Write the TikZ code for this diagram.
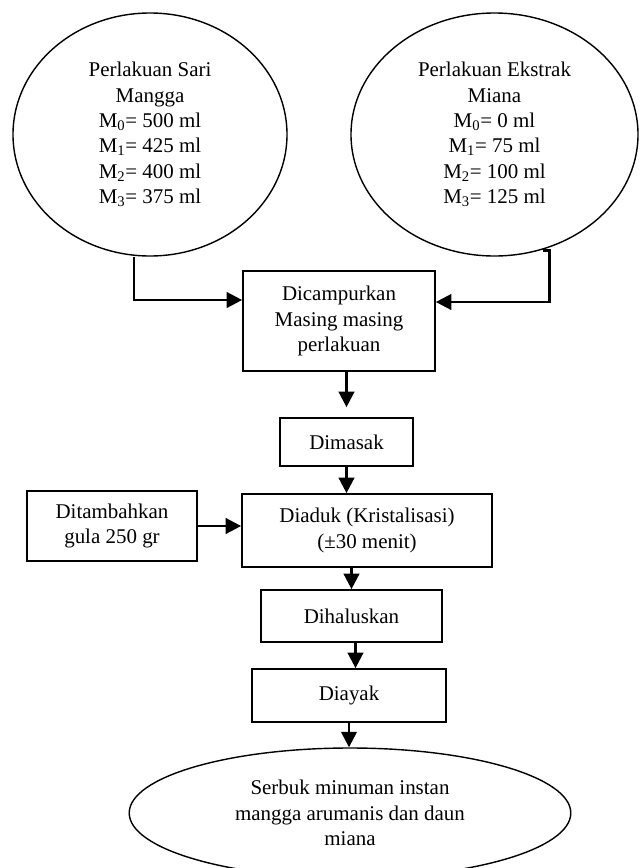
\documentclass[tikz,border=0pt]{standalone}
\usepackage{fontspec}
\setmainfont{Liberation Serif}
\usepackage{tikz}
\usetikzlibrary{arrows.meta, positioning, shapes.geometric}

\begin{document}
\begin{tikzpicture}[
    block/.style={
        draw,
        rectangle,
        line width=1.2pt,
        align=center,
        inner sep=0pt,
        font=\fontsize{14.9}{18.1}\selectfont
    },
    oval/.style={
        draw,
        ellipse,
        line width=1pt,
        align=center,
        inner sep=0pt,
        font=\fontsize{14.9}{18.1}\selectfont
    },
    arrow/.style={-{Triangle[length=11pt, width=11pt]}, line width=1.8pt}
]

\useasboundingbox (0,0) rectangle (16,-21.7);

% ===== Inputs =====
\node[oval, minimum width=6.85cm, minimum height=6.075cm] (sari) at (3.75,-3.3625)
    {Perlakuan Sari\\Mangga\\M\textsubscript{0}= 500 ml\\M\textsubscript{1}= 425 ml\\M\textsubscript{2}= 400 ml\\M\textsubscript{3}= 375 ml};

\node[oval, minimum width=7.175cm, minimum height=6.075cm] (miana) at (12.3625,-3.3625)
    {Perlakuan Ekstrak\\Miana\\M\textsubscript{0}= 0 ml\\M\textsubscript{1}= 75 ml\\M\textsubscript{2}= 100 ml\\M\textsubscript{3}= 125 ml};

% ===== Process =====
\node[block, minimum width=4.8cm, minimum height=2.5cm] (campur) at (8.475,-8.025)
    {Dicampurkan\\Masing masing\\perlakuan};

\node[block, minimum width=3.325cm, minimum height=1.2cm] (masak) at (8.6625,-11.05) {Dimasak};

\node[block, minimum width=6.25cm, minimum height=1.825cm] (aduk) at (9.175,-13.2625)
    {Diaduk (Kristalisasi)\\(±30 menit)};

\node[block, minimum width=4.25cm, minimum height=1.75cm] (gula) at (2.8,-13.15)
    {Ditambahkan\\gula 250 gr};

\node[block, minimum width=4.525cm, minimum height=1.3cm] (halus) at (8.7875,-15.4) {Dihaluskan};

\node[block, minimum width=4.85cm, minimum height=1.325cm] (ayak) at (8.725,-17.3875) {Diayak};

% ===== Output =====
\node[oval, minimum width=11.04cm, minimum height=3.25cm] (serbuk) at (8.75,-20.325)
    {Serbuk minuman instan\\mangga arumanis dan daun\\miana};

% ===== Arrows =====
\draw[arrow] ([xshift=-0.4cm]sari.south) |- ([yshift=0.525cm]campur.west);
\draw[arrow] ([xshift=1.2cm, yshift=0.15cm]miana.south) -- ++(0.175,0)
    |- ([yshift=0.475cm]campur.east);

\draw[arrow, shorten >=0.25cm] (masak.north |- campur.south) -- (masak.north);
\draw[arrow] (masak.south) -- (masak.south |- aduk.north);
\draw[arrow] (gula.east) -- (gula.east -| aduk.west);
\draw[arrow] (halus.north |- aduk.south) -- (halus.north);
\draw[arrow] ([xshift=0.1cm]halus.south) -- ([xshift=0.1cm]halus.south |- ayak.north);
\draw[arrow] (ayak.south) -- (ayak.south |- serbuk.north);

\end{tikzpicture}
\end{document}
